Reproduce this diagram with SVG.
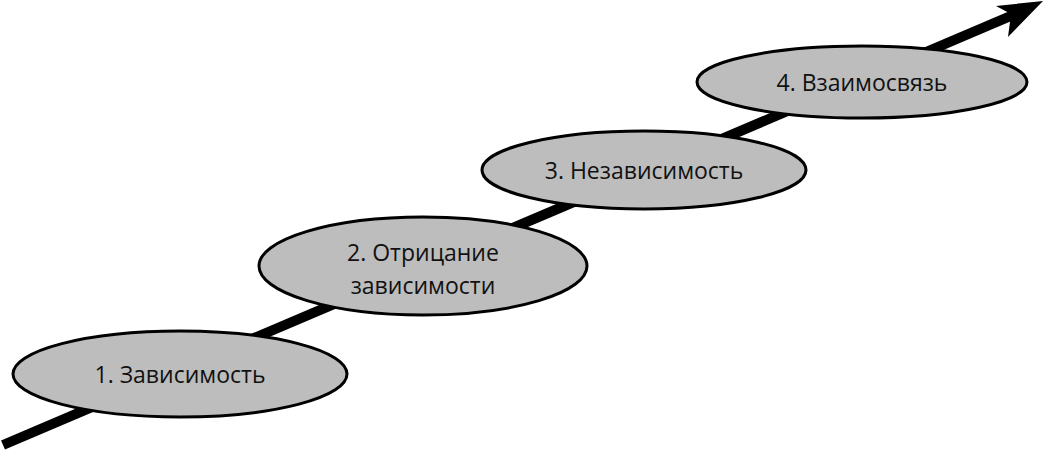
<svg xmlns="http://www.w3.org/2000/svg" width="1051" height="452" viewBox="0 0 1051 452">
<style>
ellipse{fill:#bdbdbd;stroke:#000;stroke-width:3}
text{font-family:"Open Sans","Noto Sans",sans-serif;font-size:23px;fill:#111;text-anchor:middle}
</style>
<rect width="1051" height="452" fill="#fff"/>
<g id="connectors">
<line x1="3" y1="445" x2="1020" y2="12" stroke="#000" stroke-width="10"/>
<polygon points="1043,1 996,6 1011,14 1008,37" fill="#000"/>
</g>
<g id="n1"><ellipse cx="180" cy="374" rx="167" ry="43"/><text x="180" y="383">1. Зависимость</text></g>
<g id="n2"><ellipse cx="423" cy="266" rx="164" ry="49"/><text x="423" y="261">2. Отрицание</text><text x="423" y="294">зависимости</text></g>
<g id="n3"><ellipse cx="644" cy="170" rx="162" ry="39"/><text x="644" y="179">3. Независимость</text></g>
<g id="n4"><ellipse cx="862" cy="82" rx="165" ry="36"/><text x="862" y="91">4. Взаимосвязь</text></g>
</svg>
